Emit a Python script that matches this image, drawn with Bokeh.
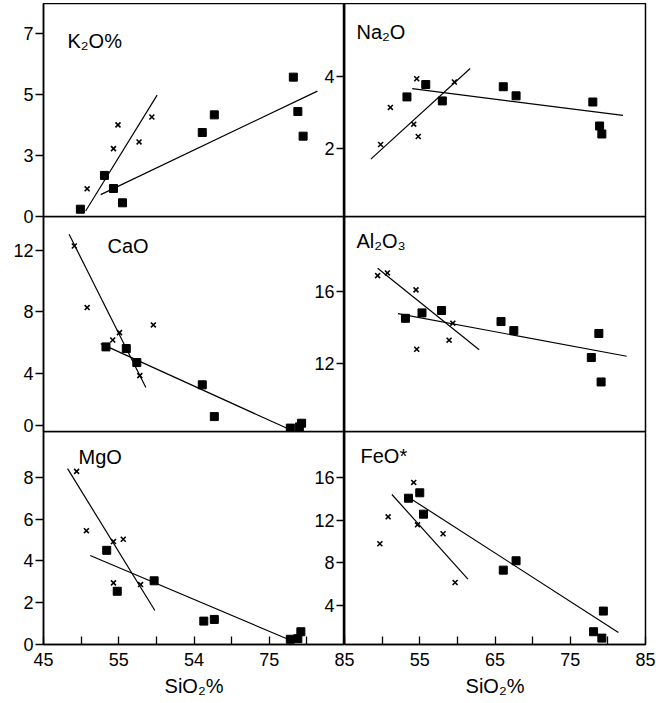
from bokeh.plotting import figure
from bokeh.models import FixedTicker, Label
from bokeh.layouts import column, row
from bokeh.embed import file_html
from bokeh.resources import INLINE

FONT = "Liberation Sans"
SI = (45, 85)

# ---- K2O% ----
k2o_sq_si = [49.9, 53.1, 54.3, 55.5, 66.1, 67.7, 78.2, 78.8, 79.5]
k2o_sq = [1.24, 2.35, 1.92, 1.45, 3.76, 4.34, 5.58, 4.45, 3.64]
k2o_cr_si = [50.8, 54.3, 54.9, 57.7, 59.4]
k2o_cr = [1.91, 3.23, 4.01, 3.45, 4.27]
k2o_fit_si = [[50.6, 60.1], [52.6, 81.4]]
k2o_fit = [[1.18, 4.99], [1.72, 5.12]]

# ---- Na2O ----
na2o_sq_si = [53.3, 55.8, 58.0, 66.1, 67.8, 78.0, 78.9, 79.2]
na2o_sq = [3.43, 3.77, 3.32, 3.71, 3.46, 3.29, 2.63, 2.41]
na2o_cr_si = [49.8, 51.1, 54.2, 54.6, 54.8, 59.6]
na2o_cr = [2.12, 3.14, 2.68, 3.93, 2.34, 3.84]
na2o_fit_si = [[48.5, 61.7], [54.0, 82.0]]
na2o_fit = [[1.72, 4.21], [3.66, 2.92]]

# ---- CaO ----
cao_sq_si = [53.3, 56.0, 57.4, 66.1, 67.7, 77.8, 79.0, 79.3]
cao_sq = [5.71, 5.60, 4.69, 3.24, 1.17, 0.42, 0.50, 0.74]
cao_cr_si = [49.1, 50.8, 54.2, 55.1, 59.6, 57.8]
cao_cr = [12.28, 8.27, 6.16, 6.64, 7.14, 3.84]
cao_fit_si = [[48.4, 58.6], [52.6, 77.8]]
cao_fit = [[13.04, 3.06], [5.92, 0.31]]

# ---- Al2O3 ----
al_sq_si = [53.1, 55.3, 57.9, 65.8, 67.5, 77.8, 78.8, 79.1]
al_sq = [14.52, 14.82, 14.95, 14.34, 13.84, 12.35, 13.68, 11.0]
al_cr_si = [49.4, 50.7, 54.5, 54.6, 58.9, 59.4]
al_cr = [16.88, 17.03, 16.09, 12.81, 13.31, 14.25]
al_fit_si = [[49.4, 62.9], [52.1, 82.5]]
al_fit = [[17.29, 12.78], [14.78, 12.42]]

# ---- MgO ----
mgo_sq_si = [53.4, 54.8, 59.7, 66.3, 67.7, 77.8, 78.8, 79.2]
mgo_sq = [4.51, 2.55, 3.05, 1.12, 1.20, 0.25, 0.28, 0.61]
mgo_cr_si = [49.4, 50.7, 54.3, 55.6, 54.3, 57.9]
mgo_cr = [8.29, 5.45, 4.93, 5.04, 2.95, 2.87]
mgo_fit_si = [[48.2, 59.8], [51.2, 77.5]]
mgo_fit = [[8.42, 1.63], [4.26, 0.25]]

# ---- FeO* ----
feo_sq_si = [53.5, 55.0, 55.5, 66.1, 67.8, 78.1, 79.2, 79.4]
feo_sq = [14.08, 14.59, 12.58, 7.32, 8.20, 1.53, 0.93, 3.47]
feo_cr_si = [49.7, 50.8, 54.2, 54.7, 58.1, 59.7]
feo_cr = [9.80, 12.33, 15.56, 11.58, 10.74, 6.16]
feo_fit_si = [[51.3, 61.4], [53.9, 81.4]]
feo_fit = [[14.43, 6.47], [13.99, 1.46]]

# x tick labels (as printed in the source figure)
si_ticks = [45, 55, 65, 75, 85]
si_minor = [50, 60, 70, 80]
left_si_labels = {65: "54"}
right_si_labels = {45: "85"}

FRAME_W = 301
LEFT_B = 35
RIGHT_AX = 34
ROW_H = [213, 215, 213]
BOTTOM_B = 60
OVER = 12


def panel(side, r, name, sq_si, sq, cr_si, cr, fit_si, fit, yr, yticks, yover, ldx, ldy):
    bottom = r == 2
    p = figure(frame_width=FRAME_W, frame_height=ROW_H[r], x_range=SI, y_range=yr,
               output_backend="svg", toolbar_location=None,
               x_axis_location="below" if bottom else None,
               min_border_left=LEFT_B if side == 0 else RIGHT_AX,
               min_border_right=0 if side == 0 else 11,
               min_border_top=0, min_border_bottom=BOTTOM_B if bottom else OVER,
               margin=(0, 0, 0, 0) if r == 0 else (-OVER, 0, 0, 0))
    p.xgrid.visible = False
    p.ygrid.visible = False
    p.background_fill_color = None
    p.border_fill_color = None
    p.outline_line_color = "black"
    p.outline_line_width = 1.5
    p.yaxis.ticker = FixedTicker(ticks=yticks)
    p.yaxis.major_label_overrides = yover
    p.yaxis.minor_tick_line_color = None
    p.yaxis.major_tick_out = 8
    p.yaxis.major_tick_in = 0
    p.yaxis.major_label_standoff = 2
    p.yaxis.major_label_text_font = FONT
    p.yaxis.major_label_text_font_size = "18px"
    p.yaxis.major_label_text_color = "black"
    p.yaxis.axis_line_width = 1.5
    p.yaxis.major_tick_line_width = 1.3
    if bottom:
        ax = p.xaxis[0]
        ax.ticker = FixedTicker(ticks=si_ticks if side == 1 else si_ticks[:-1], minor_ticks=si_minor)
        ax.major_label_overrides = left_si_labels if side == 0 else right_si_labels
        ax.major_tick_in = 8
        ax.major_tick_out = 0
        ax.minor_tick_in = 8
        ax.minor_tick_out = 0
        ax.major_tick_line_width = 1.3
        ax.minor_tick_line_width = 1.3
        ax.axis_line_width = 1.5
        ax.major_label_standoff = 8
        ax.major_label_text_font = FONT
        ax.major_label_text_font_size = "18px"
        ax.major_label_text_color = "black"
        ax.axis_label = "SiO₂%"
        ax.axis_label_text_font = FONT
        ax.axis_label_text_font_size = "20px"
        ax.axis_label_text_font_style = "normal"
        ax.axis_label_text_color = "black"
        ax.axis_label_standoff = 6
    p.multi_line(xs=fit_si, ys=fit, line_color="black", line_width=1.2)
    p.scatter(sq_si, sq, marker="square", size=8, fill_color="black", line_color="black")
    p.scatter(cr_si, cr, marker="x", size=7, line_width=1.6, line_color="black")
    p.add_layout(Label(x=SI[0], y=yr[1], x_offset=ldx, y_offset=-ldy, text=name,
                       text_baseline="top", text_font=FONT, text_font_size="20px",
                       text_color="black"))
    return p


l1 = panel(0, 0, "K₂O%", k2o_sq_si, k2o_sq, k2o_cr_si, k2o_cr, k2o_fit_si, k2o_fit,
           (1.0, 8.0), [1, 3, 5, 7], {1: "0"}, 24, 26)
r1 = panel(1, 0, "Na₂O", na2o_sq_si, na2o_sq, na2o_cr_si, na2o_cr, na2o_fit_si, na2o_fit,
           (0.14, 6.0), [2, 4], {}, 12, 17)
l2 = panel(0, 1, "CaO", cao_sq_si, cao_sq, cao_cr_si, cao_cr, cao_fit_si, cao_fit,
           (0.2, 14.2), [0.6, 4, 8, 12], {0.6: "0"}, 64, 18)
r2 = panel(1, 1, "Al₂O₃", al_sq_si, al_sq, al_cr_si, al_cr, al_fit_si, al_fit,
           (8.26, 20.15), [12, 16], {}, 12, 13)
l3 = panel(0, 2, "MgO", mgo_sq_si, mgo_sq, mgo_cr_si, mgo_cr, mgo_fit_si, mgo_fit,
           (0.0, 10.2), [0, 2, 4, 6, 8], {}, 35, 14)
r3 = panel(1, 2, "FeO*", feo_sq_si, feo_sq, feo_cr_si, feo_cr, feo_fit_si, feo_fit,
           (0.33, 20.35), [4, 8, 12, 16], {}, 16, 13)

left_col = column(l1, l2, l3)
right_col = column(r1, r2, r3, margin=(0, 0, 0, -RIGHT_AX))
root = row(left_col, right_col, margin=(3, 0, 0, 8))

open("out.html", "w").write(file_html(root, INLINE))
